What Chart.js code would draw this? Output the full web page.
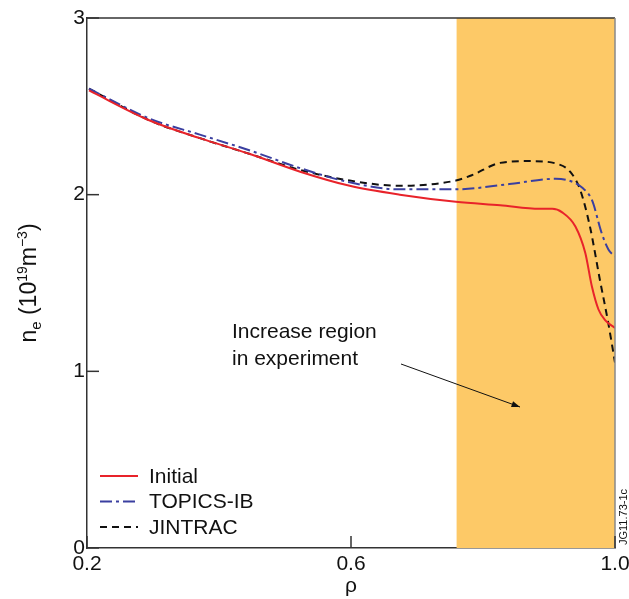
<!DOCTYPE html>
<html><head><meta charset="utf-8">
<script src="https://cdn.jsdelivr.net/npm/chart.js@4.4.0/dist/chart.umd.min.js"></script>
<style>html,body{margin:0;padding:0;background:#fff}#wrap{width:629px;height:599px}</style>
</head><body><div id="wrap"><canvas id="c" width="629" height="599"></canvas></div>
<script>
const rhoInitial = [0.203,0.295,0.371,0.447,0.523,0.598,0.674,0.759,0.826,0.886,0.905,0.92,0.94,0.955,0.965,0.975,0.985,1.0];
const neInitial  = [2.59,2.42,2.32,2.23,2.13,2.05,2.00,1.96,1.94,1.92,1.92,1.90,1.82,1.67,1.48,1.35,1.29,1.245];
const rhoTopics  = [0.203,0.295,0.371,0.447,0.523,0.598,0.674,0.759,0.84,0.91,0.93,0.95,0.965,0.98,0.99,1.0];
const neTopics   = [2.60,2.43,2.34,2.25,2.15,2.07,2.03,2.03,2.06,2.09,2.08,2.04,1.97,1.78,1.69,1.65];
const rhoJintrac = [0.203,0.295,0.371,0.447,0.523,0.598,0.674,0.759,0.783,0.826,0.871,0.916,0.932,0.947,0.962,0.977,0.989,1.0];
const neJintrac  = [2.60,2.42,2.32,2.23,2.14,2.08,2.05,2.08,2.11,2.18,2.19,2.17,2.13,2.03,1.82,1.52,1.29,1.05];
const xTicks = [0.2, 0.6, 1.0];
const yTicks = [0, 1, 2, 3];
const regionStart = 0.76, regionEnd = 1.0;
const seriesNames = ['Initial','TOPICS-IB','JINTRAC'];

const FONT = '"Liberation Sans", Arial, Helvetica, sans-serif';
const pts = (xs, ys) => xs.map((x,i)=>({x:x,y:ys[i]}));

const overlay = {
  id:'overlay',
  beforeDatasetsDraw(chart){
    const {ctx, chartArea:a, scales:{x,y}} = chart;
    ctx.save();
    ctx.fillStyle = '#FDC967';
    const x0 = x.getPixelForValue(regionStart), x1 = x.getPixelForValue(regionEnd);
    ctx.fillRect(x0, a.top, x1-x0, a.bottom-a.top);
    ctx.restore();
  },
  afterDatasetsDraw(chart){
    const {ctx, chartArea:a, scales:{x,y}} = chart;
    ctx.save();
    // frame
    ctx.strokeStyle = '#333'; ctx.lineWidth = 1.5;
    ctx.beginPath(); ctx.moveTo(a.left, a.top); ctx.lineTo(a.right, a.top); ctx.stroke();
    ctx.strokeStyle = '#888';
    ctx.beginPath(); ctx.moveTo(a.right, a.top); ctx.lineTo(a.right, a.bottom); ctx.stroke();
    ctx.strokeStyle = '#333';
    // inward ticks
    xTicks.forEach(v=>{const px=x.getPixelForValue(v); ctx.beginPath(); ctx.moveTo(px,a.bottom); ctx.lineTo(px,a.bottom-12); ctx.stroke();});
    yTicks.forEach(v=>{const py=y.getPixelForValue(v); ctx.beginPath(); ctx.moveTo(a.left,py); ctx.lineTo(a.left+12,py); ctx.stroke();});
    // annotation text
    ctx.fillStyle = '#111'; ctx.font = '21px '+FONT; ctx.textAlign='left'; ctx.textBaseline='alphabetic';
    ctx.fillText('Increase region', 232, 338);
    ctx.fillText('in experiment', 232, 365);
    // arrow
    const ax0 = 401, ay0 = 364, ax1 = 520, ay1 = 407;
    ctx.strokeStyle = '#111'; ctx.lineWidth = 1;
    ctx.beginPath(); ctx.moveTo(ax0, ay0); ctx.lineTo(ax1, ay1); ctx.stroke();
    const ang = Math.atan2(ay1-ay0, ax1-ax0);
    ctx.beginPath(); ctx.moveTo(ax1, ay1);
    ctx.lineTo(ax1-9*Math.cos(ang-0.35), ay1-9*Math.sin(ang-0.35));
    ctx.lineTo(ax1-9*Math.cos(ang+0.35), ay1-9*Math.sin(ang+0.35));
    ctx.closePath(); ctx.fillStyle='#111'; ctx.fill();
    // legend
    const styles = [
      {c:'#E8232A', d:[]},
      {c:'#3A3FA0', d:[12,4,3,4]},
      {c:'#111', d:[7,5]}
    ];
    ctx.font = '21px '+FONT;
    seriesNames.forEach((n,i)=>{
      const ly = 476 + i*25.5;
      ctx.strokeStyle = styles[i].c; ctx.lineWidth = 2; ctx.setLineDash(styles[i].d);
      ctx.beginPath(); ctx.moveTo(100, ly); ctx.lineTo(138, ly); ctx.stroke();
      ctx.setLineDash([]);
      ctx.fillStyle = '#111'; ctx.textBaseline='middle';
      ctx.fillText(n, 149, ly+1);
    });
    ctx.restore();
    // axis titles
    ctx.save();
    ctx.fillStyle = '#111';
    ctx.font = '21px '+FONT; ctx.textAlign='center'; ctx.textBaseline='alphabetic';
    ctx.fillText('ρ', x.getPixelForValue(0.6), 592);
    // y title rotated
    ctx.translate(36, 283); ctx.rotate(-Math.PI/2);
    const parts = [['n',23,0],['e',15,5],[' (10',23,0],['19',14,-9],['m',23,0],['−3',14,-9],[')',23,0]];
    let total = 0;
    parts.forEach(p=>{ctx.font=p[1]+'px '+FONT; total += ctx.measureText(p[0]).width;});
    let cx = -total/2; ctx.textAlign='left';
    parts.forEach(p=>{ctx.font=p[1]+'px '+FONT; ctx.fillText(p[0], cx, p[2]); cx += ctx.measureText(p[0]).width;});
    ctx.restore();
    // figure id
    ctx.save(); ctx.fillStyle='#111'; ctx.font='11px '+FONT;
    ctx.translate(627, 545); ctx.rotate(-Math.PI/2); ctx.textAlign='left'; ctx.textBaseline='alphabetic';
    ctx.fillText('JG11.73-1c', 0, 0);
    ctx.restore();
  }
};

new Chart(document.getElementById('c'), {
  type:'line',
  data:{datasets:[
    {label:seriesNames[0], data:pts(rhoInitial,neInitial), borderColor:'#E8232A', borderWidth:2, pointRadius:0, cubicInterpolationMode:'monotone', fill:false},
    {label:seriesNames[1], data:pts(rhoTopics,neTopics), borderColor:'#3A3FA0', borderWidth:2, borderDash:[12,4,3,4], pointRadius:0, cubicInterpolationMode:'monotone', fill:false},
    {label:seriesNames[2], data:pts(rhoJintrac,neJintrac), borderColor:'#111', borderWidth:2, borderDash:[7,5], pointRadius:0, cubicInterpolationMode:'monotone', fill:false}
  ]},
  options:{
    responsive:false, animation:false, devicePixelRatio:1,
    layout:{padding:{top:18, right:14, left:0, bottom:0}},
    plugins:{legend:{display:false}, tooltip:{enabled:false}},
    scales:{
      x:{type:'linear', min:0.2, max:1.0,
        afterBuildTicks(s){ s.ticks = xTicks.map(v=>({value:v})); },
        afterFit(s){ s.height = 51; s.paddingLeft = 0; s.paddingRight = 0; },
        grid:{display:false}, border:{display:true, color:'#333', width:1.5},
        ticks:{color:'#111', font:{size:21, family:FONT}, padding:-4, maxRotation:0, callback:v=>v.toFixed(1)}},
      y:{type:'linear', min:0, max:3,
        afterBuildTicks(s){ s.ticks = yTicks.map(v=>({value:v})); },
        afterFit(s){ s.width = 87; s.paddingTop = 0; s.paddingBottom = 0; },
        grid:{display:false}, border:{display:true, color:'#333', width:1.5},
        ticks:{color:'#111', font:{size:21, family:FONT}, padding:-6, callback:v=>String(v)}}
    }
  },
  plugins:[overlay]
});
</script></body></html>
